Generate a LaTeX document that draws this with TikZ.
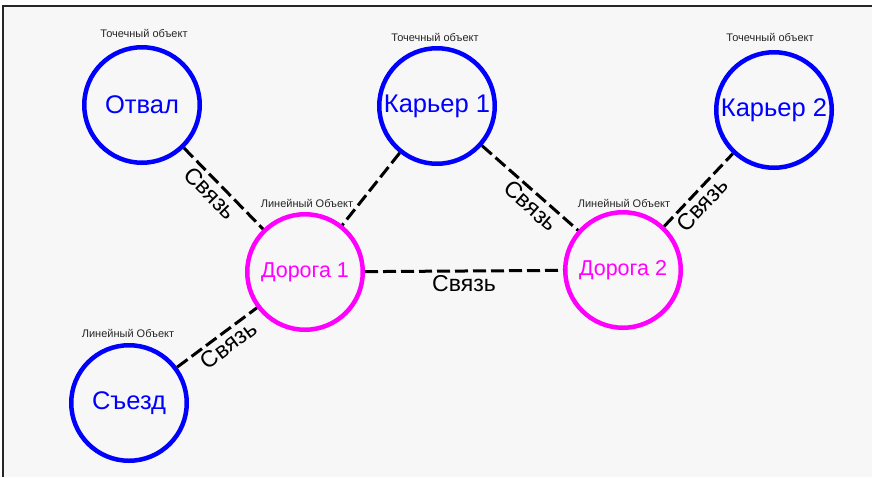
\documentclass[tikz,border=0pt]{standalone}
\usepackage{fontspec}
\setmainfont{Liberation Sans}
\definecolor{objblue}{RGB}{0,0,255}
\definecolor{roadpink}{RGB}{255,0,255}
\definecolor{canvasgray}{RGB}{247,247,247}

\begin{document}
\begin{tikzpicture}[x=1pt, y=-1pt,
  pointobj/.style={circle, draw=objblue, line width=4.5pt, minimum size=115.5pt, inner sep=0pt,
    text=objblue, font=\fontsize{25.5}{30}\selectfont},
  lineobj/.style={circle, draw=roadpink, line width=4.5pt, minimum size=115.5pt, inner sep=0pt,
    text=roadpink, font=\fontsize{21.5}{26}\selectfont},
  kindlabel/.style={inner sep=0pt, text=black!85, font=\fontsize{11}{13}\selectfont},
  link/.style={draw=black, line width=3pt, dash pattern=on 13pt off 5pt},
  linklabel/.style={inner sep=3pt, font=\fontsize{23}{27}\selectfont}]

  % Canvas and frame
  \useasboundingbox (0,0) rectangle (872,477);
  \fill[white] (0,0) rectangle (872,477);
  \fill[canvasgray] (3,6) rectangle (872,477);
  \draw[line width=1.5pt, black!85] (3,477) -- (3,6) -- (872,6);

  % Objects
  \node[pointobj] (otval) at (142,105) {Отвал};
  \node[pointobj] (pit1) at (437,106) {Карьер 1};
  \node[pointobj] (pit2) at (774,110) {Карьер 2};
  \node[lineobj] (road1) at (305,272) {Дорога 1};
  \node[lineobj] (road2) at (623,270) {Дорога 2};
  \node[pointobj] (exit) at (129,403) {Съезд};

  % Object kinds
  \node[kindlabel] (otval-kind) at (144,33) {Точечный объект};
  \node[kindlabel] (pit1-kind) at (435,37) {Точечный объект};
  \node[kindlabel] (pit2-kind) at (770,37) {Точечный объект};
  \node[kindlabel] (road1-kind) at (307,203) {Линейный Объект};
  \node[kindlabel] (road2-kind) at (624,203) {Линейный Объект};
  \node[kindlabel] (exit-kind) at (128,333) {Линейный Объект};

  % Links
  \draw[link] (otval) -- node[linklabel, sloped, below, pos=0.45] (link-a) {Связь} (road1);
  \draw[link] (pit1) -- (road1);
  \draw[link] (pit1) -- node[linklabel, sloped, below, pos=0.6] (link-b) {Связь} (road2);
  \draw[link] (road2) -- node[linklabel, sloped, below, pos=0.42] (link-c) {Связь} (pit2);
  \draw[link] (road1) -- node[linklabel, below] (link-d) {Связь} (road2);
  \draw[link] (exit) -- node[linklabel, sloped, below, pos=0.55] (link-e) {Связь} (road1);
\end{tikzpicture}
\end{document}
